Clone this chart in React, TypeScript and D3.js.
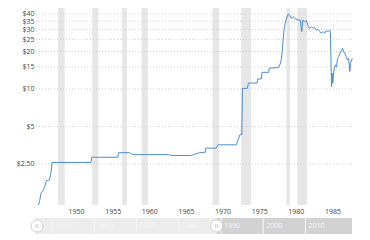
import React from "react";
import * as d3 from "d3";

const dates = [
  "1946-03","1946-05","1946-07","1946-10","1947-01","1947-04","1947-09","1947-12","1948-01",
  "1953-05","1953-06","1957-01","1957-02","1958-08","1959-01","1963-12","1964-06","1966-12",
  "1967-06","1968-03","1968-12","1969-01","1970-06","1970-09","1973-03","1973-06","1973-09",
  "1973-12","1974-01","1974-09","1974-11","1976-01","1976-02","1976-08","1976-09","1977-08",
  "1977-09","1978-12","1979-03","1979-05","1979-07","1979-09","1979-11","1980-01","1980-03",
  "1980-04","1980-06","1980-09","1980-12","1981-03","1981-08","1981-12","1982-02","1982-04",
  "1982-07","1982-10","1983-01","1983-03","1983-06","1983-09","1983-11","1984-02","1984-05",
  "1984-08","1984-10","1985-01","1985-04","1985-06","1985-09","1985-12","1986-01","1986-03",
  "1986-04","1986-05","1986-07","1986-09","1986-11","1987-01","1987-03","1987-06","1987-09",
  "1987-11","1988-02","1988-05","1988-07","1988-09","1988-10","1989-01",
];
const prices = [
  1.17, 1.27, 1.45, 1.52, 1.63, 1.84, 1.86, 2.2, 2.57,
  2.57, 2.83, 2.83, 3.08, 3.08, 2.97, 2.97, 2.92, 2.92,
  2.98, 3.08, 3.1, 3.35, 3.35, 3.56, 3.56, 3.9, 4.31,
  4.31, 10.11, 10.11, 11.16, 11.16, 12.03, 12.03, 13.6, 13.6,
  14.7, 14.85, 15.9, 17.5, 22.2, 29.3, 33.5, 36.5, 38.9,
  40.0, 39.3, 36.9, 38.1, 36.9, 35.8, 35.4, 28.9, 35.8,
  34.7, 35.4, 31.6, 30.7, 31.6, 30.7, 31.2, 29.7, 30.1,
  28.9, 28.0, 28.9, 28.0, 29.4, 28.9, 29.7, 28.9, 10.4,
  13.4, 11.1, 14.2, 15.6, 15.1, 17.6, 18.2, 19.9, 21.2,
  19.9, 18.7, 17.1, 17.6, 13.8, 16.1, 17.6,
];
const recessionStarts = ["1948-11","1953-07","1957-08","1960-04","1969-12","1973-11","1980-01","1981-07"];
const recessionEnds = ["1949-10","1954-05","1958-04","1961-02","1970-11","1975-03","1980-07","1982-11"];
const yTicks = [2.5, 5, 10, 15, 20, 25, 30, 35, 40];
const yTickLabels = ["$2.50","$5","$10","$15","$20","$25","$30","$35","$40"];
const xTickYears = [1950, 1955, 1960, 1965, 1970, 1975, 1980, 1985];
const navYears = [1950, 1960, 1970, 1980, 1990, 2000, 2010];

const parse = d3.timeParse("%Y-%m");
const yr = (y: number) => new Date(y, 0, 1);

export default function App() {
  const W = 370, H = 240;
  const top = 8, bottom = 205, left = 37.3, right = 353.5;
  const x = d3.scaleTime().domain([yr(1946), new Date(1989, 2, 1)]).range([left, right]);
  const y = d3.scaleLog().domain([1.17, 44.7]).range([bottom, top]);
  const data = dates.map((d, i) => ({ d: parse(d) as Date, v: prices[i] }));
  const line = d3.line<{ d: Date; v: number }>().x((p) => x(p.d)).y((p) => y(p.v));

  const nav = d3.scaleTime().domain([yr(1946), yr(2021)]).range([35, 352]);
  const navTop = 218, navBot = 234, navMid = 226;
  const selEnd = nav(new Date(1989, 0, 1));
  const font = "'Open Sans', 'Liberation Sans', Arial, sans-serif";

  return (
    <svg width={W} height={H} style={{ position: "absolute", left: 0, top: 0, background: "#fff" }} fontFamily={font}>
      {recessionStarts.map((s, i) => {
        const x0 = x(parse(s) as Date), x1 = x(parse(recessionEnds[i]) as Date);
        return <rect key={s} x={x0} y={top} width={x1 - x0} height={bottom - top} fill="#e6e6e6" />;
      })}
      {yTicks.map((t, i) => (
        <g key={t}>
          <line x1={36} x2={352} y1={y(t)} y2={y(t)} stroke="#cfcfcf" strokeWidth={1} strokeDasharray="1,2" />
          <text x={34.5} y={y(t)} dy="0.35em" textAnchor="end" fontSize={7} fill="#444">{yTickLabels[i]}</text>
        </g>
      ))}
      <path d={line(data) || ""} fill="none" stroke="#4a8ed2" strokeWidth={1} />
      {xTickYears.map((t) => (
        <text key={t} x={x(yr(t)) + 2} y={214} textAnchor="start" fontSize={7} fill="#444">{t}</text>
      ))}
      <rect x={nav.range()[0]} y={navTop} width={selEnd - nav.range()[0]} height={navBot - navTop} fill="#ececec" />
      <rect x={selEnd} y={navTop} width={nav.range()[1] - selEnd} height={navBot - navTop} fill="#d2d2d2" />
      {navYears.map((t) => (
        <g key={t}>
          <line x1={nav(yr(t))} x2={nav(yr(t))} y1={navTop} y2={navBot} stroke="#f6f6f6" strokeWidth={1} />
          <text x={nav(yr(t)) + 3} y={navMid} dy="0.35em" fontSize={7} fill="#f7f7f7">{t}</text>
        </g>
      ))}
      {[nav(yr(1946)) + 2, selEnd].map((cx, i) => (
        <g key={i}>
          <circle cx={cx} cy={navMid} r={6} fill="#fff" stroke="#d0d0d0" strokeWidth={1} />
          <line x1={cx - 1} x2={cx - 1} y1={navMid - 2} y2={navMid + 2} stroke="#aaa" strokeWidth={0.6} />
          <line x1={cx + 1} x2={cx + 1} y1={navMid - 2} y2={navMid + 2} stroke="#aaa" strokeWidth={0.6} />
        </g>
      ))}
    </svg>
  );
}
